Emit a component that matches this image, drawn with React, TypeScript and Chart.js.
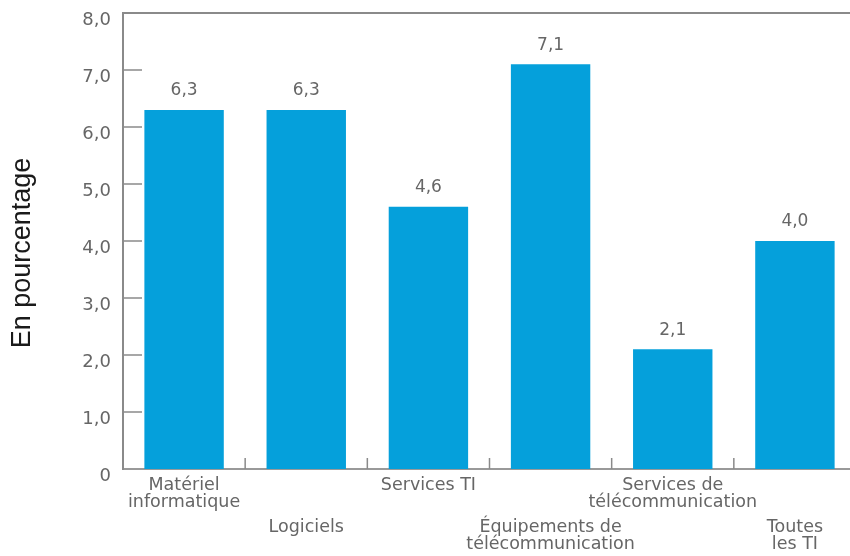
import React, { useEffect, useRef } from "react";
import { Chart, registerables } from "chart.js";

Chart.register(...registerables);

const categoryLines: string[][] = [
  ["Matériel", "informatique"],
  ["Logiciels"],
  ["Services TI"],
  ["Équipements de", "télécommunication"],
  ["Services de", "télécommunication"],
  ["Toutes", "les TI"],
];
const categories: string[] = categoryLines.map((l) => l.join(" "));
const values: number[] = [6.3, 6.3, 4.6, 7.1, 2.1, 4.0];
const labelRow: number[] = [0, 1, 0, 1, 0, 1]; // staggered label rows
const yTitle = "En pourcentage";
const yMin = 0;
const yMax = 8;
const yStep = 1;

const BAR = "#05A0DB";
const AXIS = "#8a8a8a";
const TEXT = "#666666";
const FONT = "'DejaVu Sans', sans-serif";

const fmt = (v: number) => (v === 0 ? "0" : v.toFixed(1).replace(".", ","));

const deco = {
  id: "deco",
  afterDraw(chart: any) {
    const ctx = chart.ctx;
    const area = chart.chartArea;
    const xs = chart.scales.x;
    const ys = chart.scales.y;
    ctx.save();
    // top border line
    ctx.strokeStyle = AXIS;
    ctx.lineWidth = 2;
    ctx.beginPath();
    ctx.moveTo(area.left, area.top);
    ctx.lineTo(area.right, area.top);
    ctx.stroke();
    // inward y ticks
    ctx.lineWidth = 1.5;
    ys.ticks.forEach((t: any) => {
      const y = ys.getPixelForValue(t.value);
      if (t.value === yMin || t.value === yMax) return;
      ctx.beginPath();
      ctx.moveTo(area.left, y);
      ctx.lineTo(area.left + 19, y);
      ctx.stroke();
    });
    // inward x ticks between categories
    for (let i = 1; i < categories.length; i++) {
      const x = (xs.getPixelForValue(i - 1) + xs.getPixelForValue(i)) / 2;
      ctx.beginPath();
      ctx.moveTo(x, area.bottom);
      ctx.lineTo(x, area.bottom - 11);
      ctx.stroke();
    }
    // data labels
    const meta = chart.getDatasetMeta(0);
    ctx.fillStyle = TEXT;
    ctx.font = `17px ${FONT}`;
    ctx.textAlign = "center";
    ctx.textBaseline = "middle";
    meta.data.forEach((el: any, i: number) => {
      ctx.fillText(fmt(values[i]), el.x, el.y - 19);
    });
    // x labels (staggered)
    ctx.font = `17.5px ${FONT}`;
    categoryLines.forEach((lines, i) => {
      const x = xs.getPixelForValue(i);
      const y0 = area.bottom + (labelRow[i] === 0 ? 16 : 58);
      lines.forEach((line, j) => {
        ctx.fillText(line, x, y0 + j * 17.5);
      });
    });
    // y title
    ctx.fillStyle = "#1a1a1a";
    ctx.font = `27px 'Liberation Sans', Arial, sans-serif`;
    ctx.translate(23, 253);
    ctx.rotate(-Math.PI / 2);
    ctx.fillText(yTitle, 0, 0);
    ctx.restore();
  },
};

export default function App() {
  const ref = useRef<HTMLCanvasElement | null>(null);
  useEffect(() => {
    if (!ref.current) return;
    const chart = new Chart(ref.current, {
      type: "bar",
      data: {
        labels: categories,
        datasets: [
          {
            data: values,
            backgroundColor: BAR,
            barPercentage: 0.65,
            categoryPercentage: 1,
          },
        ],
      },
      options: {
        animation: false,
        responsive: true,
        maintainAspectRatio: false,
        layout: { padding: { top: 13, right: 4, left: 0, bottom: 0 } },
        plugins: { legend: { display: false }, tooltip: { enabled: false } },
        scales: {
          x: {
            type: "category",
            offset: true,
            grid: { display: false, drawTicks: false },
            border: { display: true, color: "#999999", width: 2 },
            ticks: { display: false },
            afterFit: (s: any) => {
              s.height = 87;
              s.paddingLeft = 0;
              s.paddingRight = 0;
            },
          },
          y: {
            min: yMin,
            max: yMax,
            grid: { display: false, drawTicks: false },
            border: { display: true, color: AXIS, width: 2 },
            ticks: {
              stepSize: yStep,
              color: TEXT,
              font: { family: FONT, size: 18 },
              padding: 12,
              labelOffset: 7,
              callback: (v: any) => fmt(Number(v)),
            },
            afterFit: (s: any) => {
              s.width = 123;
              s.paddingTop = 0;
              s.paddingBottom = 0;
            },
          },
        },
      },
      plugins: [deco],
    });
    return () => chart.destroy();
  }, []);
  return (
    <div
      style={{
        position: "fixed",
        left: 0,
        top: 0,
        width: 850,
        height: 556,
        overflow: "hidden",
        background: "#fff",
      }}
    >
      <div style={{ width: 860, height: 556, position: "relative" }}>
        <canvas ref={ref} />
      </div>
    </div>
  );
}
